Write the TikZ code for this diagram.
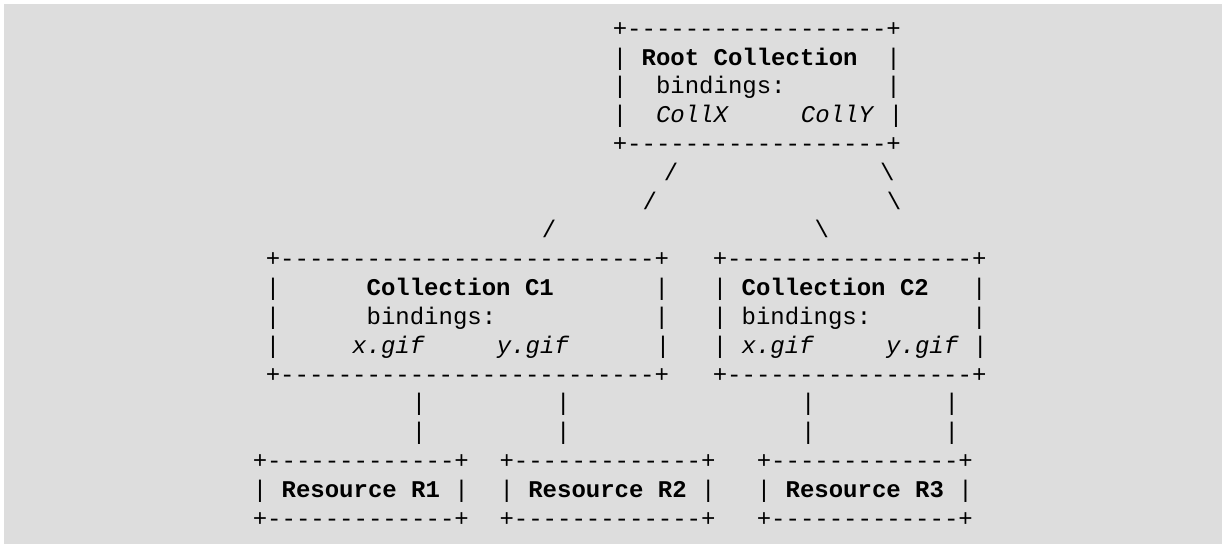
\documentclass[tikz,border=0pt]{standalone}
\usepackage{fontspec}
\setmonofont{Liberation Mono}
\begin{document}
\begin{tikzpicture}[x=0.75pt,y=-0.75pt,
  txt/.style={inner sep=0pt, outer sep=0pt, anchor=base west, text=black,
    font=\ttfamily\fontsize{18pt}{21.6pt}\selectfont},
  ch/.style={txt, anchor=base}]
\useasboundingbox (0,0) rectangle (1222,544);
\fill[white] (0,0) rectangle (1222,544);
\fill[fill={rgb,255:red,221;green,221;blue,221}] (4,4) rectangle (1222,544);
% Root collection
\node[txt] (rootA) at (612.8,36.2) {+------------------+};
\node[txt] (rootB) at (612.8,65.0) {|~\textbf{Root Collection}~~|};
\node[txt] (rootC) at (612.8,93.8) {|~~bindings:~~~~~~~|};
\node[txt] (rootD) at (612.8,122.7) {|~~\textit{CollX}~~~~~\textit{CollY}~|};
\node[txt] (rootE) at (612.8,151.5) {+------------------+};
% slashes
\node[ch] (s1) at (671,180.3) {/};
\node[ch] (b1) at (887.3,180.3) {\textbackslash};
\node[ch] (s2) at (649.7,209.1) {/};
\node[ch] (b2) at (894,209.1) {\textbackslash};
\node[ch] (s3) at (549,237.9) {/};
\node[ch] (b3) at (821.7,237.9) {\textbackslash};
% Collection C1
\node[txt] (c1A) at (265.8,266.8) {+--------------------------+};
\node[txt] (c1B) at (265.8,295.6) {|~~~~~~\textbf{Collection C1}~~~~~~~|};
\node[txt] (c1C) at (265.8,324.4) {|~~~~~~bindings:~~~~~~~~~~~|};
\node[txt] (c1D) at (265.8,353.2) {|~~~~~\textit{x.gif}~~~~~\textit{y.gif}~~~~~~|};
\node[txt] (c1E) at (265.8,382.0) {+--------------------------+};
% Collection C2
\node[txt] (c2A) at (712.8,266.8) {+-----------------+};
\node[txt] (c2B) at (712.8,295.6) {|~\textbf{Collection C2}~~~|};
\node[txt] (c2C) at (712.8,324.4) {|~bindings:~~~~~~~|};
\node[txt] (c2D) at (712.8,353.2) {|~\textit{x.gif}~~~~~\textit{y.gif}~|};
\node[txt] (c2E) at (712.8,382.0) {+-----------------+};
% vertical bars
\foreach \x/\n in {419/v1, 563.3/v2, 808.3/v3, 951.7/v4} {
  \node[ch] (\n a) at (\x,410.9) {|};
  \node[ch] (\n b) at (\x,439.7) {|};
}
% Resources
\node[txt] (r1A) at (252.8,468.5) {+-------------+};
\node[txt] (r1B) at (252.8,497.3) {|~\textbf{Resource R1}~|};
\node[txt] (r1C) at (252.8,526.1) {+-------------+};
\node[txt] (r2A) at (499.5,468.5) {+-------------+};
\node[txt] (r2B) at (499.5,497.3) {|~\textbf{Resource R2}~|};
\node[txt] (r2C) at (499.5,526.1) {+-------------+};
\node[txt] (r3A) at (756.8,468.5) {+-------------+};
\node[txt] (r3B) at (756.8,497.3) {|~\textbf{Resource R3}~|};
\node[txt] (r3C) at (756.8,526.1) {+-------------+};
\end{tikzpicture}
\end{document}
